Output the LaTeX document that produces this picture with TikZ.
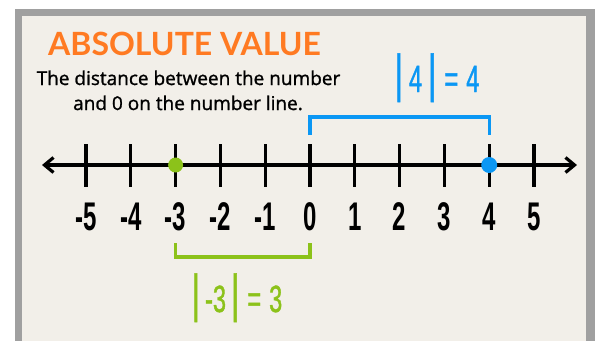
\documentclass[tikz,border=0pt]{standalone}
\usepackage{fontspec}
\usepackage{xcolor}
\usetikzlibrary{arrows.meta}
\setmainfont{Liberation Sans}
\newfontfamily\titlefont{Lato}
\newfontfamily\notefont{Open Sans}[FakeBold=1.2]
\newfontfamily\numfont{Liberation Sans}[FakeStretch=0.6]
\newfontfamily\absfont{Liberation Sans}[FakeStretch=0.62, FakeBold=1]
\newcommand\absbar{{\fontsize{52}{52}\selectfont\raisebox{1pt}{|}}}

\definecolor{paper}{RGB}{242,239,233}
\definecolor{framegray}{RGB}{160,160,160}
\definecolor{absorange}{RGB}{255,122,34}
\definecolor{absblue}{RGB}{11,151,244}
\definecolor{absgreen}{RGB}{140,194,26}

\tikzset{
  axisline/.style={line width=3.2pt, black},
  tickline/.style={line width=3.2pt, black},
  numlabel/.style={font=\numfont\bfseries\fontsize{40}{40}\selectfont, inner sep=0pt},
  bracket/.style={line width=3.4pt, line join=miter},
  abslabel/.style={font=\absfont\fontsize{38}{38}\selectfont, inner sep=0pt, anchor=base},
  dot/.style={circle, inner sep=0pt, minimum size=15pt},
}

\begin{document}
\begin{tikzpicture}[x=1pt,y=-1pt]
\useasboundingbox (0,0) rectangle (595,341);

% Frame and paper
\fill[white] (0,0) rectangle (595,341);
\fill[framegray] (15,9) rectangle (595,341);
\fill[paper] (22,16) rectangle (586,341);

% Heading
\node[font=\titlefont\bfseries\fontsize{32}{32}\selectfont, text=absorange, inner sep=0pt] (title) at (184.5,43.5) {ABSOLUTE VALUE};
\node[font=\notefont\fontsize{19}{19}\selectfont, anchor=base, inner sep=0pt] (note1) at (188.5,85) {The distance between the number};
\node[font=\notefont\fontsize{19}{19}\selectfont, anchor=base, inner sep=0pt] (note2) at (188,110) {and 0 on the number line.};

% Number line
\coordinate (left) at (42,165);
\coordinate (right) at (577,165);
\draw[axisline, {Straight Barb[length=9pt,width=15pt]}-{Straight Barb[length=9pt,width=15pt]}] (left) -- (right);

% Ticks and numbers
\foreach \n [count=\i] in {-5,...,5} {
  \pgfmathsetmacro\x{310+44.8*\n}
  \coordinate (t\i) at (\x,165);
  \draw[tickline] (\x,144) -- (\x,187);
  \node[numlabel] (lab\i) at (\x,217) {\n};
}

% Points
\node[dot, fill=absgreen] (pgreen) at (t3) {};
\node[dot, fill=absblue, minimum size=16pt] (pblue) at (t10) {};

% |4| = 4
\draw[bracket, absblue] ([yshift=30pt]t6) |- ([yshift=48pt]t10) -- ([yshift=30pt]t10);
\node[abslabel, text=absblue] (four) at (437,92) {\absbar\hspace{6pt}4\hspace{6pt}\absbar\hspace{8pt}=\hspace{8pt}4};

% |-3| = 3
\draw[bracket, absgreen] ([yshift=-78pt]t3) |- ([yshift=-92pt]t6) -- ([yshift=-78pt]t6);
\node[abslabel, text=absgreen] (three) at (237,312) {\absbar\hspace{5pt}-3\hspace{5pt}\absbar\hspace{8pt}=\hspace{8pt}3};
\end{tikzpicture}
\end{document}
